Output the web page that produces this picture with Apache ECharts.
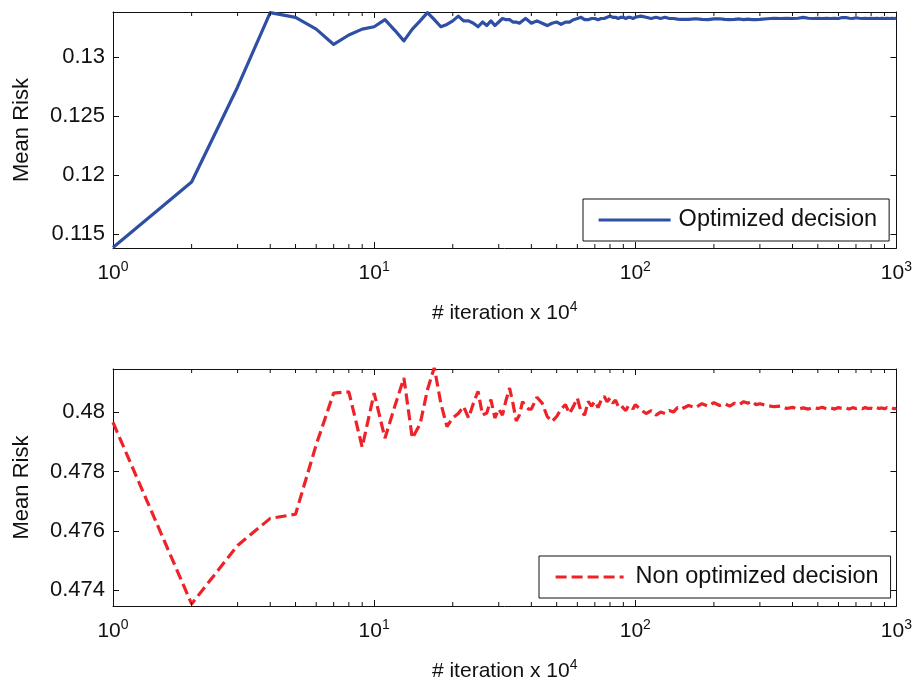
<!DOCTYPE html>
<html>
<head>
<meta charset="utf-8">
<style>
  html, body { margin: 0; padding: 0; background: #fff; }
  #chart { width: 915px; height: 686px; }
</style>
<script src="https://cdn.jsdelivr.net/npm/echarts@6/dist/echarts.min.js"></script>
</head>
<body>
<div id="chart"></div>
<script>
// Iteration counts (x 10^4), shared by both panels
const iterations = [
  1, 2, 3, 4, 5, 6, 7, 8, 9, 10,
  11, 12, 13, 14, 15, 16, 17, 18, 19, 20,
  21, 22, 23, 24, 25, 26, 27, 28, 29, 30,
  31, 32, 33, 34, 35, 36, 37, 38, 39, 40,
  42, 44, 46, 48, 50, 52, 54, 56, 58, 60,
  62, 64, 66, 68, 70, 72, 74, 76, 78, 80,
  82, 84, 86, 88, 90, 92, 94, 96, 98, 100,
  105, 110, 115, 120, 125, 130, 135, 140, 145, 150,
  160, 170, 180, 190, 200, 210, 220, 230, 240, 250,
  260, 270, 280, 290, 300, 320, 340, 360, 380, 400,
  420, 440, 460, 480, 500, 520, 540, 560, 580, 600,
  620, 640, 660, 680, 700, 720, 740, 760, 780, 800,
  820, 840, 860, 880, 900, 920, 940, 960, 980, 1000
];

// Mean risk with the optimized decision
const optimizedRisk = [
  0.1139, 0.11944, 0.1275, 0.1338, 0.1334, 0.1324, 0.1311, 0.1319, 0.1324, 0.1326,
  0.1332, 0.1323, 0.1314, 0.1324, 0.1331, 0.1338, 0.1332, 0.1326, 0.1328, 0.1331,
  0.1335, 0.1331, 0.1331, 0.1329, 0.1326, 0.1330, 0.1327, 0.1331, 0.1327, 0.1330,
  0.1333, 0.1332, 0.1332, 0.1330, 0.1330, 0.1329, 0.1331, 0.1333, 0.1331, 0.1329,
  0.1331, 0.1329, 0.1327, 0.1329, 0.1330, 0.1328, 0.1330, 0.1330, 0.1332, 0.1333,
  0.1334, 0.1332, 0.1332, 0.1333, 0.1333, 0.1332, 0.1333, 0.1333, 0.1334, 0.1335,
  0.1334, 0.1334, 0.1333, 0.1334, 0.1334, 0.1333, 0.1334, 0.1334, 0.1333, 0.1334,
  0.1335, 0.1334, 0.1333, 0.1334, 0.1333, 0.1334, 0.1333, 0.1333, 0.13325, 0.13322,
  0.13322, 0.13328, 0.13322, 0.1332, 0.13326, 0.13328, 0.13322, 0.1332, 0.13322, 0.13326,
  0.1332, 0.13324, 0.1332, 0.1332, 0.13322, 0.13328, 0.13332, 0.1333, 0.13332, 0.1333,
  0.13332, 0.1334, 0.13332, 0.1333, 0.13332, 0.1333, 0.13332, 0.1333, 0.13332, 0.1333,
  0.13338, 0.13338, 0.13332, 0.1333, 0.13336, 0.13332, 0.1333, 0.13332, 0.1333, 0.13332,
  0.1333, 0.13332, 0.1333, 0.13332, 0.1333, 0.13332, 0.1333, 0.13332, 0.1333, 0.13332
];

// Mean risk with the non optimized decision
const nonOptimizedRisk = [
  0.47965, 0.47354, 0.47551, 0.47642, 0.47656, 0.47890, 0.48064, 0.48068, 0.47882, 0.48064,
  0.47912, 0.48020, 0.48115, 0.47912, 0.47960, 0.48075, 0.48150, 0.48030, 0.47951, 0.47980,
  0.47995, 0.48019, 0.47980, 0.48030, 0.48070, 0.47990, 0.47997, 0.48042, 0.47980, 0.48010,
  0.47990, 0.48040, 0.48081, 0.48030, 0.47970, 0.47990, 0.48035, 0.48020, 0.48010, 0.48010,
  0.48050, 0.48030, 0.47985, 0.47968, 0.47985, 0.48010, 0.48025, 0.47995, 0.48020, 0.48047,
  0.48000, 0.47990, 0.48036, 0.48020, 0.48036, 0.48015, 0.48040, 0.48053, 0.48035, 0.48047,
  0.48030, 0.48040, 0.48020, 0.48025, 0.48013, 0.48005, 0.48020, 0.48020, 0.48010, 0.48025,
  0.48008, 0.47995, 0.48005, 0.47990, 0.48000, 0.47995, 0.48005, 0.48000, 0.48015, 0.48010,
  0.48022, 0.48015, 0.48028, 0.48020, 0.48032, 0.48022, 0.48028, 0.48020, 0.48030, 0.48025,
  0.48035, 0.48030, 0.48036, 0.48025, 0.48028, 0.48022, 0.48018, 0.48020, 0.48012, 0.48016,
  0.48010, 0.48014, 0.48010, 0.48015, 0.48012, 0.48016, 0.48011, 0.48014, 0.48010, 0.48015,
  0.48012, 0.48014, 0.48010, 0.48015, 0.48012, 0.48014, 0.48011, 0.48015, 0.48012, 0.48013,
  0.48010, 0.48015, 0.48012, 0.48014, 0.48011, 0.48015, 0.48012, 0.48014, 0.48011, 0.48013
];

// Axis ticks
const decadeTicks = [1, 10, 100, 1000];
const minorDecadeTicks = [2, 3, 4, 5, 6, 7, 8, 9, 20, 30, 40, 50, 60, 70, 80, 90, 200, 300, 400, 500, 600, 700, 800, 900];
const topRiskTicks = [0.115, 0.12, 0.125, 0.13];
const bottomRiskTicks = [0.474, 0.476, 0.478, 0.48];

const FONT = "'Liberation Sans', Arial, Helvetica, sans-serif";
const BLUE = '#2E4FA3';
const RED = '#EE2229';
const INK = '#111';
const LINE_W = 3.2;

const chart = echarts.init(document.getElementById('chart'), null, { renderer: 'canvas' });

function pairs(xs, ys) { return xs.map((x, i) => [x, ys[i]]); }

function decadeLabel(v) {
  const e = Math.round(Math.log10(v));
  return '{b|10}{s|' + e + '}';
}

const decadeRich = {
  b: { fontSize: 21, fontFamily: FONT, color: INK },
  s: { fontSize: 14, fontFamily: FONT, color: INK, verticalAlign: 'top', padding: [0, 0, 12, 0] }
};

function xAxes(gridIndex) {
  return [
    {
      gridIndex, type: 'log', logBase: 10, min: 1, max: 1000, position: 'bottom',
      axisLine: { show: true, lineStyle: { color: INK, width: 1 } },
      axisTick: { show: true, inside: true, length: 6, lineStyle: { color: INK }, customValues: decadeTicks },
      axisLabel: { show: true, margin: 12, formatter: decadeLabel, rich: decadeRich, customValues: decadeTicks },
      splitLine: { show: false },
      name: '{t|# iteration x 10}{s|4}',
      nameLocation: 'middle', nameGap: 52,
      nameTextStyle: {
        rich: {
          t: { fontSize: 21, fontFamily: FONT, color: INK },
          s: { fontSize: 14, fontFamily: FONT, color: INK, verticalAlign: 'top', padding: [0, 0, 12, 0] }
        }
      }
    },
    {
      gridIndex, type: 'log', logBase: 10, min: 1, max: 1000, position: 'top',
      axisLine: { show: true, lineStyle: { color: INK, width: 1 } },
      axisTick: { show: true, inside: true, length: 6, lineStyle: { color: INK }, customValues: decadeTicks },
      axisLabel: { show: false },
      splitLine: { show: false }
    }
  ];
}

function yAxes(gridIndex, min, max, ticks, digits) {
  const fmt = v => String(+v.toFixed(digits));
  return [
    {
      gridIndex, type: 'value', min, max, position: 'left',
      axisLine: { show: true, lineStyle: { color: INK, width: 1 } },
      axisTick: { show: true, inside: true, length: 6, lineStyle: { color: INK }, customValues: ticks },
      axisLabel: { show: true, margin: 8, fontSize: 22, fontFamily: FONT, color: INK, formatter: fmt, customValues: ticks },
      splitLine: { show: false },
      name: 'Mean Risk', nameLocation: 'middle', nameGap: 80, nameRotate: 90,
      nameTextStyle: { fontSize: 22, fontFamily: FONT, color: INK }
    },
    {
      gridIndex, type: 'value', min, max, position: 'right',
      axisLine: { show: true, lineStyle: { color: INK, width: 1 } },
      axisTick: { show: true, inside: true, length: 6, lineStyle: { color: INK }, customValues: ticks },
      axisLabel: { show: false },
      splitLine: { show: false }
    }
  ];
}

// Short minor tick marks at 2..9 within each decade, on the top and bottom frame edges
function minorTickSeries(xAxisIndex, yAxisIndex, yRef) {
  return {
    type: 'custom', xAxisIndex, yAxisIndex, silent: true, clip: false, z: 5,
    data: minorDecadeTicks.map(v => [v, yRef]),
    renderItem: function (params, api) {
      const x = api.coord([api.value(0), api.value(1)])[0];
      const cs = params.coordSys;
      const len = 4;
      return {
        type: 'group',
        children: [
          { type: 'line', shape: { x1: x, y1: cs.y + cs.height, x2: x, y2: cs.y + cs.height - len }, style: { stroke: INK, lineWidth: 1 } },
          { type: 'line', shape: { x1: x, y1: cs.y, x2: x, y2: cs.y + len }, style: { stroke: INK, lineWidth: 1 } }
        ]
      };
    }
  };
}

// Legend box: line sample only, no marker
function legendBox(name, left, top, padding, itemWidth, textGap) {
  return {
    data: [name],
    left, top, padding,
    itemWidth, itemHeight: 14,
    borderColor: INK, borderWidth: 1, backgroundColor: '#fff',
    selectedMode: false,
    itemStyle: { opacity: 0, color: 'rgba(0,0,0,0)', borderWidth: 0 },
    lineStyle: { width: LINE_W },
    textStyle: { fontSize: 23.5, fontFamily: FONT, color: INK, padding: [0, 0, 0, textGap] }
  };
}

const option = {
  backgroundColor: '#fff',
  animation: false,
  grid: [
    { left: 113, top: 12, width: 784, height: 236 },
    { left: 113, top: 369, width: 784, height: 237 }
  ],
  xAxis: [...xAxes(0), ...xAxes(1)],
  yAxis: [
    ...yAxes(0, 0.11385, 0.13385, topRiskTicks, 4),
    ...yAxes(1, 0.47347, 0.48145, bottomRiskTicks, 3)
  ],
  legend: [
    legendBox('Optimized decision', 583, 199, [9, 12, 9, 14], 72, 3),
    legendBox('Non optimized decision', 539, 556, [9, 12, 9, 15], 68, 7)
  ],
  series: [
    {
      name: 'Optimized decision', type: 'line', xAxisIndex: 0, yAxisIndex: 0,
      data: pairs(iterations, optimizedRisk),
      symbol: 'none', showSymbol: false, smooth: false,
      color: BLUE,
      lineStyle: { color: BLUE, width: LINE_W, join: 'round' }
    },
    {
      name: 'Non optimized decision', type: 'line', xAxisIndex: 2, yAxisIndex: 2,
      data: pairs(iterations, nonOptimizedRisk),
      symbol: 'none', showSymbol: false, smooth: false,
      color: RED,
      lineStyle: { color: RED, width: LINE_W, type: [11, 5] }
    },
    minorTickSeries(0, 0, 0.12),
    minorTickSeries(2, 2, 0.477)
  ]
};

chart.setOption(option);
</script>
</body>
</html>
